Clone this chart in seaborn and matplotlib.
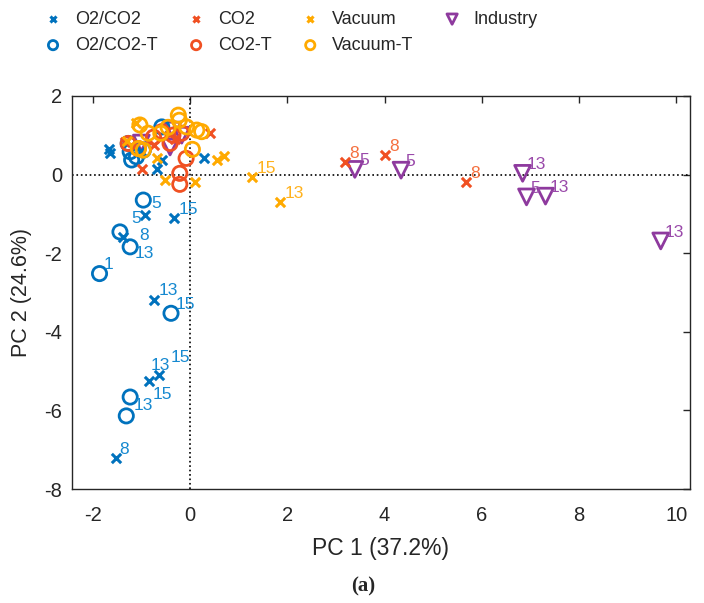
import matplotlib
matplotlib.use("Agg")
import matplotlib.pyplot as plt
import seaborn as sns
import pandas as pd

# PCA scores
o2co2_x = [-1.66, -1.64, -0.68, -0.58, 0.29, -0.92, -0.32, -1.38, -0.73, -0.63, -0.85, -1.53, -1.00]
o2co2_y = [0.65, 0.55, 0.13, 0.37, 0.43, -1.02, -1.10, -1.59, -3.18, -5.10, -5.25, -7.21, 0.60]
o2co2_lab = ['', '', '', '', '', '', '15', '8', '13', '15', '13', '8', '']

o2co2t_x = [-1.23, -1.20, -1.10, -0.58, -0.96, -1.27, -0.96, -1.44, -1.23, -1.86, -0.39, -1.23, -1.31]
o2co2t_y = [0.58, 0.37, 0.45, 1.21, 0.62, 0.79, -0.65, -1.46, -1.84, -2.52, -3.53, -5.66, -6.14]
o2co2t_lab = ['', '', '', '', '', '', '5', '5', '13', '1', '15', '15', '13']

co2_x = [0.41, -0.99, -1.34, 3.19, 4.01, 5.67, -0.30, -0.75]
co2_y = [1.05, 0.15, 0.83, 0.32, 0.50, -0.19, 0.90, 0.75]
co2_lab = ['', '', '', '8', '8', '8', '', '']

co2t_x = [-0.21, -0.21, -0.08, -0.41, -0.17, -0.58, -1.06, -1.27, -0.75, -0.35]
co2t_y = [0.03, -0.25, 0.41, 0.79, 1.05, 1.09, 0.66, 0.79, 0.95, 1.00]
co2t_lab = [''] * 10

vac_x = [0.55, 0.69, -0.51, 0.10, -0.68, -1.10, 1.28, 1.86, -1.30]
vac_y = [0.38, 0.48, -0.14, -0.19, 0.41, 1.30, -0.06, -0.70, 0.85]
vac_lab = ['', '', '', '', '', '', '15', '13', '']

vact_x = [-0.24, -0.22, 0.14, 0.24, 0.05, -1.03, -0.86, -1.06, -0.96, -0.07, -0.60, -0.45]
vact_y = [1.51, 1.38, 1.13, 1.09, 0.64, 1.26, 1.05, 0.66, 0.62, 1.21, 1.05, 1.20]
vact_lab = [''] * 12

ind_x = [3.39, 4.34, 6.84, 6.92, 7.31, 9.68, -0.35, -0.17, -0.41, -1.00]
ind_y = [0.13, 0.11, 0.03, -0.57, -0.55, -1.69, 1.13, 1.00, 0.70, 0.80]
ind_lab = ['5', '5', '13', '5', '13', '13', '', '', '', '']

groups = ['O2/CO2', 'O2/CO2-T', 'CO2', 'CO2-T', 'Vacuum', 'Vacuum-T', 'Industry']
data = {
    'O2/CO2': (o2co2_x, o2co2_y, o2co2_lab),
    'O2/CO2-T': (o2co2t_x, o2co2t_y, o2co2t_lab),
    'CO2': (co2_x, co2_y, co2_lab),
    'CO2-T': (co2t_x, co2t_y, co2t_lab),
    'Vacuum': (vac_x, vac_y, vac_lab),
    'Vacuum-T': (vact_x, vact_y, vact_lab),
    'Industry': (ind_x, ind_y, ind_lab),
}

colors = {'O2/CO2': '#0072BD', 'O2/CO2-T': '#0072BD', 'CO2': '#F05022', 'CO2-T': '#F05022',
          'Vacuum': '#FFAA00', 'Vacuum-T': '#FFAA00', 'Industry': '#8E3A9E'}
text_colors = {'O2/CO2': '#1689D0', 'O2/CO2-T': '#1689D0', 'CO2': '#F5703F', 'CO2-T': '#F5703F',
               'Vacuum': '#FFB21E', 'Vacuum-T': '#FFB21E', 'Industry': '#9A4AAA'}
markers = {'O2/CO2': 'x', 'O2/CO2-T': 'o', 'CO2': 'x', 'CO2-T': 'o',
           'Vacuum': 'x', 'Vacuum-T': 'o', 'Industry': 'v'}
sizes = {'x': 45, 'o': 105, 'v': 130}

# label placement (offset points), default is up-right of the marker
default_offset = (3, 3)
label_nudge = {
    ('O2/CO2', 7): (12, -2.5),
    ('O2/CO2', 9): (8, 9.5),
    ('O2/CO2', 10): (1.5, 8),
    ('O2/CO2-T', 6): (6, -6),
    ('O2/CO2-T', 7): (8.5, 6.5),
    ('O2/CO2-T', 8): (3, -8),
    ('O2/CO2-T', 11): (16, -1.5),
    ('O2/CO2-T', 12): (5, 4),
}

sns.set_theme(style='white')
plt.rcParams['font.family'] = ['Liberation Sans', 'DejaVu Sans']
plt.rcParams['axes.unicode_minus'] = False

fig = plt.figure(figsize=(7.04, 6.03), dpi=100)
ax = fig.add_axes([0.102, 0.189, 0.878, 0.652])

draw_order = ['Industry', 'O2/CO2', 'O2/CO2-T', 'CO2', 'CO2-T', 'Vacuum', 'Vacuum-T']
for z, g in enumerate(draw_order):
    xs, ys, labs = data[g]
    df = pd.DataFrame({'pc1': xs, 'pc2': ys, 'lab': labs})
    m = markers[g]
    if m == 'x':
        sns.scatterplot(data=df, x='pc1', y='pc2', ax=ax, marker='x', s=sizes[m],
                        color=colors[g], linewidth=2.2, zorder=3 + z, label=g)
    else:
        sns.scatterplot(data=df, x='pc1', y='pc2', ax=ax, marker=m, s=sizes[m],
                        facecolors='none', edgecolor=colors[g], color=colors[g],
                        linewidth=2.0, zorder=3 + z, label=g)
    for i, r in df.iterrows():
        if r['lab']:
            ax.annotate(r['lab'], (r['pc1'], r['pc2']),
                        xytext=label_nudge.get((g, i), default_offset),
                        textcoords='offset points', fontsize=12.5,
                        color=text_colors[g], zorder=20)

ax.axhline(0, color='black', ls=':', lw=1.2, zorder=1)
ax.axvline(0, color='black', ls=':', lw=1.2, zorder=1)

ax.set_xlim(-2.43, 10.28)
ax.set_ylim(-8, 2)
ax.set_xticks([-2, 0, 2, 4, 6, 8, 10])
ax.set_yticks([-8, -6, -4, -2, 0, 2])
ax.tick_params(direction='in', length=5, width=1, top=True, right=True,
               labelsize=14.5, colors='#262626')
ax.tick_params(axis='x', pad=12)
ax.tick_params(axis='y', pad=7)
for s in ax.spines.values():
    s.set_color('#262626')
    s.set_linewidth(1.0)
ax.set_xlabel('PC 1 (37.2%)', fontsize=16.5, color='#262626')
ax.set_ylabel('PC 2 (24.6%)', fontsize=15.5, color='#262626')
ax.xaxis.set_label_coords(0.5, -0.122)
ax.yaxis.set_label_coords(-0.064, 0.5)

h, l = ax.get_legend_handles_labels()
lookup = dict(zip(l, h))
ax.legend([lookup[g] for g in groups], groups, ncol=4, frameon=False,
          loc='upper left', bbox_to_anchor=(0.0625, 0.982), bbox_transform=fig.transFigure,
          borderaxespad=0, borderpad=0, fontsize=13, markerscale=0.65,
          handlelength=1.0, handletextpad=0.7, columnspacing=1.65, labelspacing=0.5)

fig.text(0.516, 0.028, '(a)', ha='center', va='center', fontsize=15, fontweight='bold',
         family='Liberation Serif')

fig.savefig('out.png', dpi=100)
